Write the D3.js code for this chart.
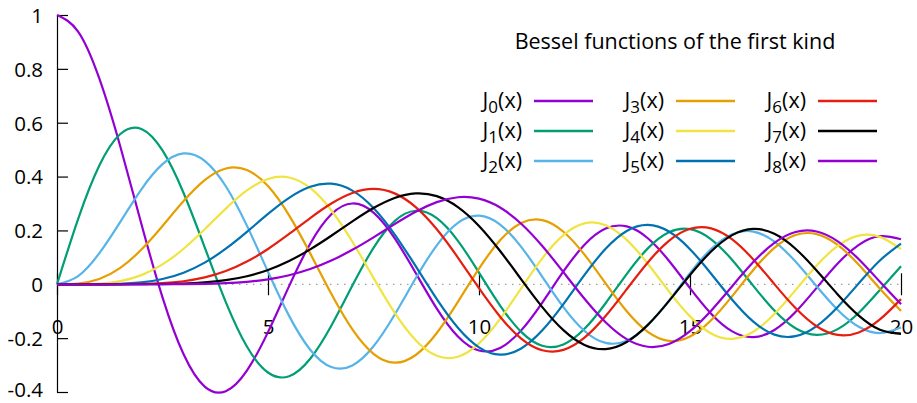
<!DOCTYPE html>
<html>
<head>
<meta charset="utf-8">
<script src="https://cdn.jsdelivr.net/npm/d3@7"></script>
<style>
  body { margin: 0; background: #fff; }
  #chart-container { width: 917px; height: 403px; }
  svg text { font-family: "Open Sans", "Noto Sans", sans-serif; font-size: 20.5px; fill: #000; }
  #chart-title, #legend text { font-size: 21.5px; }
  .tick line, .domain { stroke: #000; stroke-width: 1.2; }
  .chart-line { fill: none; stroke-width: 2.2; stroke-linejoin: round; }
  #zero-line { stroke: #a0a0a0; stroke-width: 1.2; stroke-dasharray: 1.5 5.5; }
</style>
</head>
<body>
<div id="chart-container"></div>
<script>

// Data.
const xValues = [0, 0.5, 1, 1.5, 2, 2.5, 3, 3.5, 4, 4.5, 5, 5.5, 6, 6.5, 7, 7.5, 8, 8.5, 9, 9.5, 10,
  10.5, 11, 11.5, 12, 12.5, 13, 13.5, 14, 14.5, 15, 15.5, 16, 16.5, 17, 17.5, 18, 18.5, 19, 19.5, 20];

const j0Values = [1, 0.93847, 0.76520, 0.51183, 0.22389, -0.04838, -0.26005, -0.38013, -0.39715, -0.32054, -0.17760,
  -0.00684, 0.15065, 0.26009, 0.30008, 0.26634, 0.17165, 0.04194, -0.09033, -0.19393, -0.24594,
  -0.23664, -0.17119, -0.06765, 0.04769, 0.14689, 0.20692, 0.21499, 0.17107, 0.08755, -0.01422,
  -0.10923, -0.17490, -0.19638, -0.16985, -0.10311, -0.01336, 0.07716, 0.14663, 0.17885, 0.16702];

const j1Values = [0, 0.24227, 0.44005, 0.55794, 0.57672, 0.49709, 0.33906, 0.13738, -0.06604, -0.23106, -0.32758,
  -0.34144, -0.27668, -0.15384, -0.00468, 0.13525, 0.23464, 0.27312, 0.24531, 0.16126, 0.04347,
  -0.07885, -0.17678, -0.22838, -0.22345, -0.16549, -0.07032, 0.03805, 0.13337, 0.19343, 0.20510,
  0.16721, 0.09040, -0.00576, -0.09767, -0.16342, -0.18799, -0.16663, -0.10570, -0.02088, 0.06683];

const j2Values = [0, 0.03060, 0.11490, 0.23209, 0.35283, 0.44606, 0.48609, 0.45863, 0.36413, 0.21785, 0.04657,
  -0.11732, -0.24288, -0.30743, -0.30142, -0.23027, -0.11299, 0.02232, 0.14485, 0.22788, 0.25463,
  0.22162, 0.13905, 0.02793, -0.08493, -0.17337, -0.21774, -0.20935, -0.15202, -0.06087, 0.04157,
  0.13081, 0.18620, 0.19568, 0.15836, 0.08443, -0.00753, -0.09517, -0.15775, -0.18099, -0.16034];

const j3Values = [0, 0.00256, 0.01956, 0.06096, 0.12894, 0.21660, 0.30906, 0.38677, 0.43017, 0.42470, 0.36483,
  0.25612, 0.11477, -0.03535, -0.16756, -0.25806, -0.29113, -0.26262, -0.18093, -0.06531, 0.05838,
  0.16328, 0.22735, 0.23809, 0.19513, 0.11001, 0.00332, -0.10008, -0.17681, -0.21022, -0.19402,
  -0.13345, -0.04385, 0.05320, 0.13493, 0.18272, 0.18632, 0.14605, 0.07248, -0.01625, -0.09890];

const j4Values = [0, 0.00016, 0.00248, 0.01177, 0.03400, 0.07378, 0.13203, 0.20440, 0.28113, 0.34842, 0.39123,
  0.39672, 0.35764, 0.27480, 0.15780, 0.02382, -0.10536, -0.20770, -0.26547, -0.26913, -0.21960,
  -0.12832, -0.01504, 0.09629, 0.18250, 0.22617, 0.21928, 0.16487, 0.07624, -0.02612, -0.11918,
  -0.18247, -0.20264, -0.17633, -0.11074, -0.02178, 0.06964, 0.14254, 0.18064, 0.17599, 0.13067];

const j5Values = [0, 0.00001, 0.00025, 0.00180, 0.00704, 0.01950, 0.04303, 0.08043, 0.13209, 0.19471, 0.26114,
  0.32093, 0.36209, 0.37357, 0.34790, 0.28347, 0.18577, 0.06714, -0.05504, -0.16133, -0.23406,
  -0.26105, -0.23829, -0.17111, -0.07347, 0.03474, 0.13162, 0.19778, 0.22038, 0.19581, 0.13046,
  0.03927, -0.05747, -0.13869, -0.18704, -0.19268, -0.15537, -0.08441, 0.00357, 0.08845, 0.15117];

const j6Values = [0, 0, 0.00002, 0.00023, 0.00120, 0.00422, 0.01139, 0.02543, 0.04909, 0.08427, 0.13105,
  0.18679, 0.24584, 0.29992, 0.33920, 0.35414, 0.33758, 0.28669, 0.20432, 0.09931, -0.01446,
  -0.12030, -0.20158, -0.24508, -0.24372, -0.19838, -0.11803, -0.01837, 0.08117, 0.16116, 0.20615,
  0.20781, 0.16672, 0.09228, 0.00071, -0.08832, -0.15596, -0.18817, -0.17876, -0.13063, -0.05509];

const j7Values = [0, 0, 0, 0.00002, 0.00017, 0.00078, 0.00255, 0.00674, 0.01518, 0.03001, 0.05338,
  0.08661, 0.12959, 0.18013, 0.23358, 0.28315, 0.32059, 0.33760, 0.32746, 0.28678, 0.21671,
  0.12356, 0.01838, -0.08463, -0.17025, -0.22518, -0.24057, -0.21411, -0.15080, -0.06244, 0.03446,
  0.12162, 0.18251, 0.20580, 0.18755, 0.13212, 0.05140, -0.03765, -0.11647, -0.16884, -0.18422];

const j8Values = [0, 0, 0, 0, 0.00002, 0.00012, 0.00049, 0.00154, 0.00403, 0.00912, 0.01841,
  0.03367, 0.05653, 0.08805, 0.12797, 0.17441, 0.22346, 0.26936, 0.30507, 0.32331, 0.31785,
  0.28505, 0.22497, 0.14205, 0.04510, -0.05382, -0.14105, -0.20367, -0.23197, -0.22145, -0.17398,
  -0.09796, -0.00702, 0.08234, 0.15374, 0.19402, 0.19593, 0.15968, 0.09294, 0.00941, -0.07387];

const seriesValues = [j0Values, j1Values, j2Values, j3Values, j4Values, j5Values, j6Values, j7Values, j8Values];
const seriesOrders = ["0", "1", "2", "3", "4", "5", "6", "7", "8"];
const seriesColors = ["#9400d3", "#009e73", "#56b4e9", "#e69f00", "#f0e442", "#0072b2", "#e51e10", "#000000", "#9400d3"];

const xTicks = [0, 5, 10, 15, 20];
const yTicks = [-0.4, -0.2, 0, 0.2, 0.4, 0.6, 0.8, 1];
const yTickLabels = ["-0.4", "-0.2", "0", "0.2", "0.4", "0.6", "0.8", "1"];
const chartTitle = "Bessel functions of the first kind";

let margin, fWidth, fHeight, width, height, chartCanvas, xScale, yScale, lineGen;

function initChart() {

  // Sizing variables.
  margin = { top: 15, right: 16, bottom: 11, left: 57 },
    fWidth = 917,
    fHeight = 403,
    width = fWidth - margin.left - margin.right,
    height = fHeight - margin.top - margin.bottom;

  chartCanvas = d3.select("#chart-container").append("svg")
    .attr("width", fWidth)
    .attr("height", fHeight)
  .append("g")
    .attr("transform", `translate(${ margin.left } ${ margin.top })`);

  xScale = d3.scaleLinear().domain([0, 20]).range([0, width]);
  yScale = d3.scaleLinear().domain([-0.4, 1]).range([height, 0]);

  // Dotted zero line.
  chartCanvas.append("line")
    .attr("id", "zero-line")
    .attr("x1", xScale(0))
    .attr("x2", xScale(20))
    .attr("y1", yScale(0))
    .attr("y2", yScale(0));

  // Y axis, ticks pointing inwards.
  // Bottom label sits a bit higher so it stays inside the frame.
  chartCanvas.append("g")
    .attr("id", "y-axis")
    .call(d3.axisLeft(yScale)
      .tickValues(yTicks)
      .tickFormat((d, i) => yTickLabels[i])
      .tickSizeInner(-11)
      .tickSizeOuter(0)
      .tickPadding(14))
    .selectAll("text")
      .attr("dy", (d, i) => i === 0 ? "0.2em" : "0.36em");

  // X axis sits on the zero line, ticks cross it.
  let xAxis = chartCanvas.append("g")
    .attr("id", "x-axis")
    .attr("transform", `translate(0 ${ yScale(0) - 11 })`)
    .call(d3.axisBottom(xScale)
      .tickValues(xTicks)
      .tickFormat(d3.format("d"))
      .tickSize(22)
      .tickPadding(24));
  xAxis.select(".domain").remove();

  // Curves.
  lineGen = d3.line()
    .x(d => xScale(d[0]))
    .y(d => yScale(d[1]))
    .curve(d3.curveNatural);

  chartCanvas.append("g")
    .attr("id", "chart-paths")
    .selectAll(".chart-line")
    .data(seriesValues)
    .enter()
    .append("path")
      .classed("chart-line", true)
      .attr("stroke", (d, i) => seriesColors[i])
      .attr("d", d => lineGen(d.map((v, i) => [xValues[i], v])));

  // Title.
  d3.select("svg").append("text")
    .attr("id", "chart-title")
    .attr("x", 675)
    .attr("y", 49)
    .attr("text-anchor", "middle")
    .text(chartTitle);

  // Legend, three columns of three.
  let legend = d3.select("svg").append("g").attr("id", "legend");
  seriesOrders.forEach((n, k) => {
    let col = Math.floor(k / 3), row = k % 3;
    let ly = 101 + row * 30;
    let lx = 522 + col * 142;
    let t = legend.append("text")
      .attr("x", lx)
      .attr("y", ly + 7)
      .attr("text-anchor", "end");
    t.append("tspan").text("J");
    t.append("tspan").attr("dy", 5).style("font-size", "17px").text(n);
    t.append("tspan").attr("dy", -5).text("(x)");
    legend.append("line")
      .attr("x1", lx + 12)
      .attr("x2", lx + 71)
      .attr("y1", ly)
      .attr("y2", ly)
      .attr("stroke", seriesColors[k])
      .attr("stroke-width", 2.5);
  });

  console.log("Chart initialised.");
}

initChart();
</script>
</body>
</html>
